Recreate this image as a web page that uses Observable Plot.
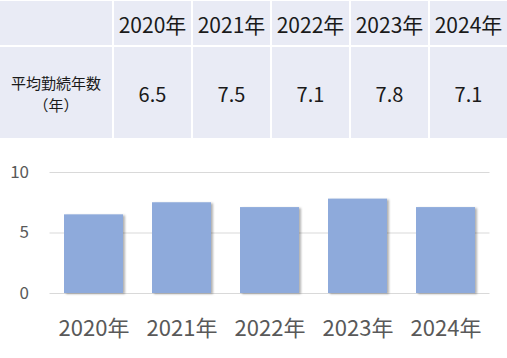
<!DOCTYPE html>
<html><head><meta charset="utf-8">
<script src="https://cdn.jsdelivr.net/npm/d3@7"></script>
<script src="https://cdn.jsdelivr.net/npm/@observablehq/plot@0.6"></script>
<style>
html,body{margin:0;padding:0;background:#fff;width:507px;height:358px;overflow:hidden;font-family:"Noto Sans CJK JP","Noto Sans",sans-serif;}
#tbl{display:grid;grid-template-columns:112px repeat(5,1fr);grid-template-rows:44px 91px;gap:2px;padding-top:1px;width:507px;height:138px;box-sizing:border-box;background:#fff;}
#tbl div{background:#e9ebf5;color:#1a1a1a;display:flex;align-items:center;justify-content:center;text-align:center;}
#tbl .h{font-size:21px;padding-top:1px;}
#tbl .v{font-size:20px;padding-top:2px;}
#tbl .l{font-size:15px;line-height:22px;flex-direction:column;padding-top:2px;}
#chart svg{display:block;}
</style></head>
<body>
<div id="tbl"></div>
<div id="chart"></div>
<script>
const years = ["2020年","2021年","2022年","2023年","2024年"];
const values = [6.5, 7.5, 7.1, 7.8, 7.1];
const rowLabel = "平均勤続年数";
const rowUnit = "（年）";
const yTicks = [0, 5, 10];

// table
const tbl = document.getElementById("tbl");
function cell(cls, html){const d=document.createElement("div");d.className=cls;d.innerHTML=html;tbl.appendChild(d);}
cell("h","");
years.forEach(y=>cell("h",y));
cell("l",`<span>${rowLabel}</span><span>${rowUnit}</span>`);
values.forEach(v=>cell("v",v.toFixed(1)));

const data = years.map((y,i)=>({year:y,value:values[i]}));
const chart = Plot.plot({
  width: 507,
  height: 220,
  marginLeft: 49.5,
  marginRight: 17.5,
  marginTop: 34,
  marginBottom: 65,
  style: {fontFamily: '"Noto Sans CJK JP","Noto Sans",sans-serif', background: "#fff", overflow: "visible"},
  x: {domain: years, paddingInner: 0.33, paddingOuter: 0.165, label: null},
  y: {domain: [0, 10], label: null},
  marks: [
    Plot.gridY(yTicks, {stroke: "#d9d9d9", strokeOpacity: 1, strokeWidth: 1}),
    Plot.barY(data, {x: "year", y: "value", fill: "#8eaadb"}),
    Plot.axisY(yTicks, {tickSize: 0, tickPadding: 21, fontSize: 17, color: "#595959", label: null}),
    Plot.axisX({tickSize: 0, tickPadding: 27, fontSize: 22, color: "#595959", label: null})
  ]
});
document.getElementById("chart").appendChild(chart);
// soft drop shadow on bars
const ns = "http://www.w3.org/2000/svg";
const defs = document.createElementNS(ns, "defs");
defs.innerHTML = '<filter id="barShadow" x="-10%" y="-10%" width="130%" height="130%"><feDropShadow dx="2" dy="1" stdDeviation="1" flood-color="#000" flood-opacity="0.3"/></filter>';
chart.insertBefore(defs, chart.firstChild);
const barG = chart.querySelector('g[aria-label="bar"]');
if (barG) barG.setAttribute("filter", "url(#barShadow)");
</script>
</body></html>
